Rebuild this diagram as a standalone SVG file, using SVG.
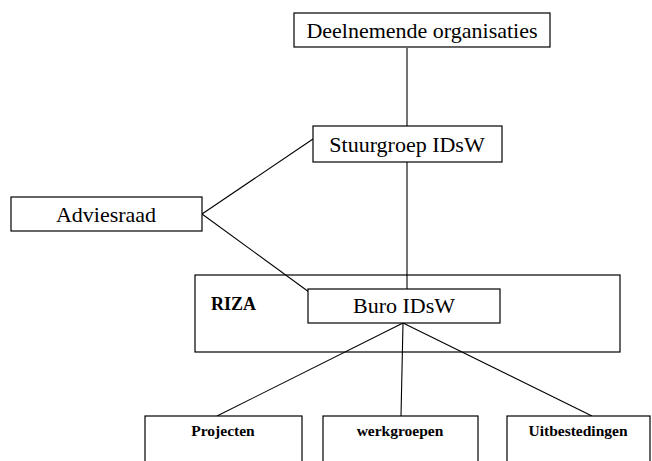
<svg xmlns="http://www.w3.org/2000/svg" width="652" height="461" viewBox="0 0 652 461">
<style>
rect{fill:#fff;stroke:#000;stroke-width:1.2}
line{stroke:#000;stroke-width:1.1}
.t{font-family:"Liberation Serif","Times New Roman",serif;font-size:22px;text-anchor:middle;fill:#000}
.b{font-family:"Liberation Serif","Times New Roman",serif;font-size:15.5px;font-weight:bold;text-anchor:middle;fill:#000}
</style>
<rect x="0" y="0" width="652" height="461" style="stroke:none"/>
<g id="riza"><rect x="195" y="275" width="425" height="77"/><text x="211" y="310" class="b" style="text-anchor:start;font-size:18px">RIZA</text></g>
<g id="connectors">
<line x1="407" y1="48" x2="407" y2="126"/>
<line x1="407" y1="162" x2="407" y2="289"/>
<line x1="202" y1="214" x2="313" y2="139"/>
<line x1="202" y1="214" x2="309" y2="292"/>
<line x1="403" y1="323" x2="217" y2="416"/>
<line x1="403" y1="323" x2="401" y2="416"/>
<line x1="403" y1="323" x2="592" y2="416"/>
</g>
<g id="deelnemende"><rect x="294" y="13" width="256" height="34"/><text x="422" y="38" class="t">Deelnemende organisaties</text></g>
<g id="stuurgroep"><rect x="313" y="126" width="189" height="36"/><text x="407" y="152" class="t">Stuurgroep IDsW</text></g>
<g id="adviesraad"><rect x="11" y="197" width="191" height="34"/><text x="106" y="222" class="t">Adviesraad</text></g>
<g id="buro"><rect x="308" y="289" width="192" height="34"/><text x="404" y="313" class="t">Buro IDsW</text></g>
<g id="projecten"><rect x="145" y="416" width="157" height="60"/><text x="223" y="436" class="b">Projecten</text></g>
<g id="werkgroepen"><rect x="323" y="416" width="155" height="60"/><text x="400" y="436" class="b">werkgroepen</text></g>
<g id="uitbestedingen"><rect x="507" y="416" width="143" height="60"/><text x="578" y="436" class="b">Uitbestedingen</text></g>
</svg>
